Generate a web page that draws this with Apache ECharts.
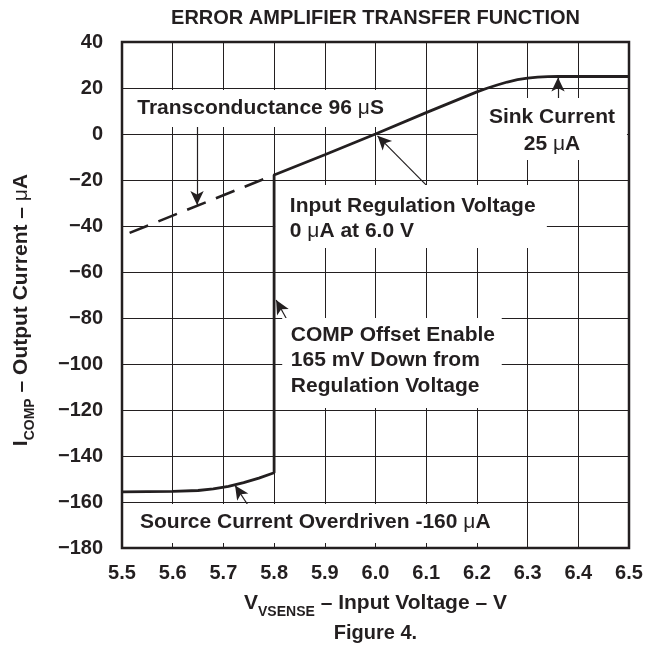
<!DOCTYPE html>
<html><head><meta charset="utf-8">
<script src="https://cdn.jsdelivr.net/npm/echarts@6/dist/echarts.min.js"></script>
<style>html,body{margin:0;padding:0;background:#fff}#c{width:655px;height:650px}</style>
</head><body><div id="c"></div>
<script>
// ---- data ----
const xTickLabels = ['5.5','5.6','5.7','5.8','5.9','6.0','6.1','6.2','6.3','6.4','6.5'];
const yTickLabels = ['40','20','0','−20','−40','−60','−80','−100','−120','−140','−160','−180'];

// source-current (overdriven) segment
const lowerV = [5.5, 5.6, 5.65, 5.68, 5.71, 5.74, 5.77, 5.8];
const lowerI = [-155.6, -155.4, -155.0, -154.3, -153.2, -151.6, -149.6, -147.3];
// COMP offset enable step
const stepV = [5.8, 5.8];
const stepI = [-147.3, -17.8];
// transconductance region and sink-current limit
const upperV = [5.8, 5.9, 6.0, 6.1, 6.2, 6.22, 6.24, 6.26, 6.28, 6.30, 6.32, 6.34, 6.36, 6.5];
const upperI = [-17.8, -9.0, 0.0, 9.3, 18.3, 19.9, 21.3, 22.6, 23.6, 24.3, 24.7, 24.95, 25.0, 25.0];
// dashed extrapolation of transconductance
const dashV = [5.515, 5.8];
const dashI = [-43, -17.8];

// ---- annotations (anchors in data coordinates) ----
const INK = '#231f20';
const FONT = 'Liberation Sans';
const annotations = [
  {text: 'Transconductance 96 {m|μ}S', at: [5.530, 11.3], align: 'left', lh: 25,
   box: [[5.516, 19.1], [6.025, 3.0]]},
  {text: 'Sink Current\n25 {m|μ}A', at: [6.348, 1.5], align: 'center', lh: 27,
   box: [[6.202, 15.7], [6.496, -11.3]]},
  {text: 'Input Regulation Voltage\n0 {m|μ}A at 6.0 V', at: [5.831, -37], align: 'left', lh: 25,
   box: [[5.802, -22.2], [6.338, -49.6]]},
  {text: 'COMP Offset Enable\n165 mV Down from\nRegulation Voltage', at: [5.833, -98.5], align: 'left', lh: 25.5,
   box: [[5.816, -80], [6.249, -119.1]]},
  {text: 'Source Current Overdriven -160 {m|μ}A', at: [5.5355, -168.7], align: 'left', lh: 25,
   box: [[5.516, -160.9], [6.285, -177.8]]}
];
// arrows: [tail, head]
const arrows = [
  [[5.648, 5.2], [5.648, -30.9]],
  [[6.36, 14.8], [6.36, 24.6]],
  [[6.1036, -23], [6.004, -0.8]],
  [[5.829, -82.2], [5.804, -72.2]],
  [[5.756, -163.9], [5.723, -152.8]]
];

const solidData = [];
lowerV.forEach((v, k) => solidData.push([v, lowerI[k]]));
stepV.forEach((v, k) => solidData.push([v, stepI[k]]));
upperV.forEach((v, k) => solidData.push([v, upperI[k]]));
const dashData = dashV.map((v, k) => [v, dashI[k]]);

const mainRich = {
  i: {fontFamily: FONT, fontWeight: 'bold', fontSize: 21, color: INK, lineHeight: 25, verticalAlign: 'top'},
  s: {fontFamily: FONT, fontWeight: 'bold', fontSize: 14, color: INK, lineHeight: 14, padding: [12, 0, 0, 0], verticalAlign: 'top'},
  m: {fontFamily: FONT, fontWeight: 'normal', fontSize: 21, color: INK, lineHeight: 25, verticalAlign: 'top'}
};

const chart = echarts.init(document.getElementById('c'), null, {renderer: 'canvas'});
const option = {
  animation: false,
  backgroundColor: '#fff',
  grid: {left: 122, right: 26, top: 42, bottom: 102, show: true, borderColor: INK, borderWidth: 2.5, backgroundColor: 'transparent'},
  xAxis: {
    type: 'value', min: 5.5, max: 6.5, interval: 0.1,
    axisLine: {show: false}, axisTick: {show: false},
    splitLine: {show: true, lineStyle: {color: INK, width: 1}},
    axisLabel: {
      margin: 15, color: INK, fontFamily: FONT, fontWeight: 'bold', fontSize: 20,
      formatter: v => xTickLabels[Math.round((v - 5.5) * 10)]
    },
    name: '{i|V}{s|VSENSE}{i| – Input Voltage – V}',
    nameLocation: 'middle', nameGap: 45,
    nameTextStyle: {rich: mainRich}
  },
  yAxis: {
    type: 'value', min: -180, max: 40, interval: 20,
    axisLine: {show: false}, axisTick: {show: false},
    splitLine: {show: true, lineStyle: {color: INK, width: 1}},
    axisLabel: {
      margin: 19, color: INK, fontFamily: FONT, fontWeight: 'bold', fontSize: 20,
      formatter: v => yTickLabels[Math.round((40 - v) / 20)]
    },
    name: '{i|I}{s|COMP}{i| – Output Current – }{m|μ}{i|A}',
    nameLocation: 'middle', nameGap: 86, nameRotate: 90,
    nameTextStyle: {rich: mainRich, padding: [0, 30, 0, 0]}
  },
  series: [
    {type: 'line', data: solidData, showSymbol: false, symbol: 'none', z: 10,
     lineStyle: {color: INK, width: 2.8}},
    {type: 'line', data: dashData, showSymbol: false, symbol: 'none', z: 10,
     lineStyle: {color: INK, width: 2.6, type: [20, 11]}},
    {type: 'line', data: [], z: 11,
     markLine: {
       silent: true, symbol: ['none', 'arrow'], symbolSize: [10, 14],
       label: {show: false},
       lineStyle: {color: INK, width: 1.2, type: 'solid'},
       emphasis: {disabled: true},
       data: arrows.map(a => [{coord: a[0]}, {coord: a[1]}])
     }}
  ]
};
chart.setOption(option);

const P = (v, i) => chart.convertToPixel({gridIndex: 0}, [v, i]);
const graphic = [];
annotations.forEach(a => {
  const p1 = P(a.box[0][0], a.box[0][1]);
  const p2 = P(a.box[1][0], a.box[1][1]);
  graphic.push({type: 'rect', z: 5, silent: true,
    shape: {x: Math.min(p1[0], p2[0]), y: Math.min(p1[1], p2[1]), width: Math.abs(p2[0] - p1[0]), height: Math.abs(p2[1] - p1[1])},
    style: {fill: '#fff'}});
  const t = P(a.at[0], a.at[1]);
  graphic.push({type: 'text', z: 6, silent: true, x: t[0], y: t[1],
    style: {text: a.text, fill: INK, font: 'bold 21px "' + FONT + '"',
      align: a.align, textAlign: a.align, verticalAlign: 'middle', textVerticalAlign: 'middle',
      lineHeight: a.lh,
      rich: {m: {fontFamily: FONT, fontWeight: 'normal', fontSize: 21, fill: INK, lineHeight: a.lh}}}});
});
const cx = P(6.0, 0)[0];
graphic.push({type: 'text', z: 6, silent: true, x: cx, y: 18,
  style: {text: 'ERROR AMPLIFIER TRANSFER FUNCTION', fill: INK, font: 'bold 20px "' + FONT + '"',
    align: 'center', textAlign: 'center', verticalAlign: 'middle', textVerticalAlign: 'middle'}});
graphic.push({type: 'text', z: 6, silent: true, x: cx, y: 633,
  style: {text: 'Figure 4.', fill: INK, font: 'bold 20px "' + FONT + '"',
    align: 'center', textAlign: 'center', verticalAlign: 'middle', textVerticalAlign: 'middle'}});
chart.setOption({graphic: graphic});
</script>
</body></html>
